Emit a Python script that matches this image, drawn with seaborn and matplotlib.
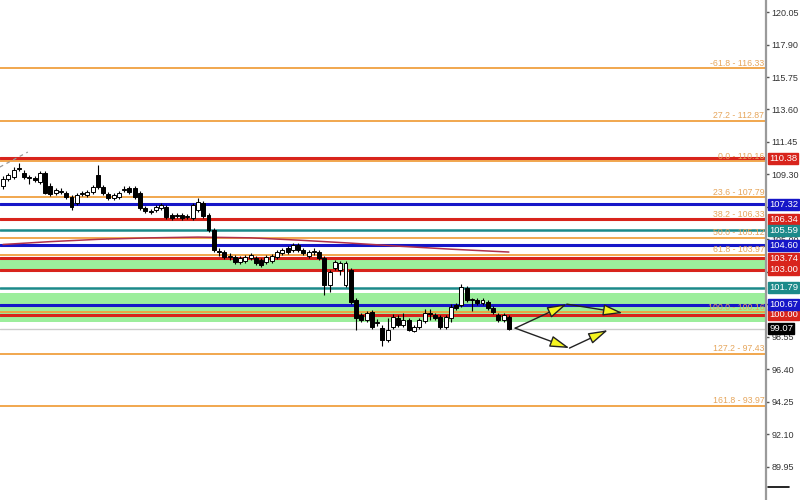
import matplotlib
matplotlib.use("Agg")
import matplotlib.pyplot as plt
import matplotlib.transforms as mtransforms
import numpy as np
import pandas as pd
import seaborn as sns

# Bougies (OHLC)
opens = [108.53, 108.99, 109.12, 109.65, 109.39, 109.12, 109.06, 108.79, 109.39, 108.53,
         108.06, 108.13, 108.06, 107.80, 107.40, 108.00, 107.93, 108.13, 109.26, 108.46,
         108.00, 107.73, 107.80, 108.26, 108.40, 108.40, 108.06, 107.07, 106.81, 106.94,
         107.07, 107.14, 106.61, 106.54, 106.61, 106.47, 106.41, 106.94, 107.40, 106.61,
         105.61, 104.22, 104.16, 103.83, 103.83, 103.49, 103.56, 103.76, 103.76, 103.63,
         103.49, 103.56, 103.83, 104.09, 104.42, 104.29, 104.62, 104.29, 103.89, 104.16,
         104.16, 103.76, 101.97, 103.10, 102.96, 101.97, 102.96, 100.98, 99.98, 99.65,
         100.18, 99.45, 99.12, 98.33, 99.19, 99.79, 99.32, 99.65, 98.92, 99.19,
         99.59, 100.12, 99.98, 99.85, 99.19, 99.79, 100.65, 100.65, 101.77, 100.98,
         100.98, 100.78, 100.85, 100.45, 99.98, 99.65, 99.85]
closes = [108.99, 109.26, 109.59, 109.72, 109.12, 109.06, 108.92, 109.39, 108.06, 108.00,
          108.26, 108.20, 107.80, 107.14, 107.93, 108.06, 108.13, 108.46, 108.46, 108.06,
          107.73, 107.93, 108.06, 108.33, 108.13, 107.80, 107.07, 106.87, 106.87, 107.14,
          107.27, 106.47, 106.41, 106.61, 106.41, 106.54, 107.27, 107.47, 106.54, 105.61,
          104.29, 104.16, 103.83, 103.89, 103.49, 103.76, 103.83, 103.96, 103.43, 103.30,
          103.83, 103.89, 104.16, 104.29, 104.16, 104.62, 104.29, 104.09, 104.16, 104.22,
          103.76, 101.97, 102.83, 103.49, 103.43, 103.43, 100.85, 99.79, 99.65, 100.12,
          99.19, 99.52, 98.33, 98.99, 99.85, 99.32, 99.65, 98.99, 99.19, 99.65,
          100.12, 100.05, 99.79, 99.19, 99.85, 100.51, 100.45, 101.84, 100.98, 101.04,
          100.78, 100.98, 100.45, 100.18, 99.65, 99.98, 99.07]
highs = [109.19, 109.39, 109.79, 110.05, 109.59, 109.26, 109.19, 109.52, 109.52, 108.73,
         108.40, 108.40, 108.20, 107.93, 108.06, 108.20, 108.26, 108.59, 109.92, 108.59,
         108.13, 108.06, 108.20, 108.53, 108.53, 108.53, 108.20, 107.20, 107.00, 107.27,
         107.40, 107.27, 106.74, 106.74, 106.74, 106.67, 107.40, 107.73, 107.53, 106.74,
         105.75, 104.42, 104.29, 104.09, 103.96, 103.89, 103.96, 104.09, 103.89, 103.76,
         103.96, 104.02, 104.29, 104.42, 104.55, 104.75, 104.75, 104.42, 104.29, 104.42,
         104.29, 103.89, 102.96, 103.63, 103.56, 103.56, 103.10, 101.11, 100.12, 100.25,
         100.32, 99.72, 99.32, 99.79, 100.05, 99.98, 100.12, 99.79, 99.32, 99.79,
         100.38, 100.38, 100.12, 99.98, 99.98, 100.71, 100.78, 102.04, 101.90, 101.11,
         101.11, 101.11, 100.98, 100.58, 100.12, 100.12, 99.98]
lows = [108.33, 108.86, 108.99, 109.52, 108.99, 108.66, 108.79, 108.66, 108.00, 107.87,
        107.93, 108.00, 107.67, 106.94, 107.27, 107.87, 107.80, 108.00, 108.33, 107.93,
        107.60, 107.60, 107.67, 108.13, 108.00, 107.67, 106.94, 106.74, 106.67, 106.81,
        106.94, 106.34, 106.28, 106.41, 106.28, 106.34, 106.28, 106.81, 106.41, 105.48,
        104.16, 103.89, 103.69, 103.63, 103.36, 103.36, 103.43, 103.63, 103.30, 103.16,
        103.36, 103.43, 103.69, 103.96, 104.02, 104.16, 104.16, 103.96, 103.76, 103.96,
        103.63, 101.31, 101.51, 102.96, 102.63, 101.84, 100.71, 98.99, 99.52, 99.52,
        99.06, 99.26, 97.93, 98.20, 99.06, 99.19, 99.19, 98.92, 98.88, 99.06,
        99.45, 99.65, 99.65, 99.06, 99.06, 99.52, 100.32, 100.51, 100.85, 100.25,
        100.65, 100.65, 100.32, 100.05, 99.52, 99.52, 99.02]

# Moyenne mobile (quelques points)
ma_idx = [0, 9, 18, 28, 37, 47, 56, 66, 75, 85, 96]
ma_vals = [104.66, 104.85, 105.00, 105.10, 105.15, 105.10, 104.95, 104.75, 104.55, 104.35, 104.16]

# Niveaux de Fibonacci
fib_ratios = ["-61.8", "27.2", "0.0", "23.6", "38.2", "50.0", "61.8", "100.0", "127.2", "161.8"]
fib_prices = [116.33, 112.87, 110.16, 107.79, 106.33, 105.12, 103.97, 100.16, 97.43, 93.97]

# Niveaux horizontaux
red_levels = [110.38, 106.34, 103.74, 103.00, 100.00]
blue_levels = [107.32, 104.60, 100.67]
teal_levels = [105.59, 101.79]
green_zones = [(103.00, 103.74), (99.54, 101.46)]
last_price = 99.07

# Scenarios (fleches)
path_up = [(97.2, 99.12), (107.0, 100.71), (117.6, 100.12)]
path_down = [(97.2, 99.12), (107.5, 97.80), (114.8, 98.99)]

# Ligne pointillee en haut a gauche
dash_x = [-0.6, 4.7]
dash_y = [109.79, 110.78]

tick_vals = [89.95, 92.10, 94.25, 96.40, 98.55, 100.70, 102.85, 105.00,
             107.15, 109.30, 111.45, 113.60, 115.75, 117.90, 120.05]
# graduations masquees par les etiquettes de prix
hidden_ticks = [100.70, 102.85, 107.15]

RED = "#d8241c"
BLUE = "#1616c8"
TEAL = "#1c8a8a"
FIB = "#f0a040"
FIB_TXT = "#e6a65c"

sns.set_theme(style="white")
plt.rcParams["font.family"] = ["Liberation Sans", "DejaVu Sans"]

fig = plt.figure(figsize=(8, 5), dpi=100)
ax = fig.add_axes([0, 0, 766 / 800, 1])
ax.set_xlim(-0.57, 144.8)
ax.set_ylim(87.74, 120.85)

# Zones vertes
for lo, hi in green_zones:
    ax.axhspan(lo, hi, color="#9cee9c", zorder=0, lw=0)

ax.axhline(last_price, color="#cccccc", lw=1, zorder=0.5)

# Fibonacci
for r, p in zip(fib_ratios, fib_prices):
    ax.axhline(p, color=FIB, lw=1.3, zorder=1)
    ax.annotate(f"{r} - {p:.2f}", xy=(0.998, p), xycoords=("axes fraction", "data"),
                xytext=(0, 0.5), textcoords="offset points", ha="right", va="bottom",
                fontsize=6.3, color=FIB_TXT, zorder=1.5)

for p in red_levels:
    ax.axhline(p, color=RED, lw=2.2, zorder=1.2)
for p in blue_levels:
    ax.axhline(p, color=BLUE, lw=2.2, zorder=1.2)
for p in teal_levels:
    ax.axhline(p, color=TEAL, lw=1.8, zorder=1.2)

# Moyenne mobile
sns.lineplot(x=ma_idx, y=ma_vals, color="#b0304a", lw=1.1, ax=ax, zorder=2)
ax.plot(dash_x, dash_y, color="#999999", lw=0.9, ls=(0, (3, 3)), zorder=2)

# Bougies
df = pd.DataFrame({"o": opens, "h": highs, "l": lows, "c": closes})
df["x"] = np.arange(len(df))
ax.vlines(df["x"], df["l"], df["h"], color="black", lw=0.8, zorder=3)
bottoms = np.minimum(df["o"], df["c"])
heights = np.maximum((df["c"] - df["o"]).abs(), 0.03)
faces = np.where(df["c"] >= df["o"], "white", "black")
ax.bar(df["x"], heights, bottom=bottoms, width=0.75, color=faces,
       edgecolor="black", lw=0.7, zorder=3.5)

# Fleches de scenario
for path in (path_up, path_down):
    for (x0, y0), (x1, y1) in zip(path[:-1], path[1:]):
        ax.annotate("", xy=(x1, y1), xytext=(x0, y0),
                    arrowprops=dict(arrowstyle="-|>,head_length=1.2,head_width=0.35",
                                    fc="#f5f520", ec="#222222", lw=1.0,
                                    shrinkA=0, shrinkB=0, mutation_scale=10),
                    zorder=4)

# Axe de droite
for s in ["top", "left", "bottom"]:
    ax.spines[s].set_visible(False)
ax.spines["right"].set_color("#9a9a9a")
ax.spines["right"].set_linewidth(1.6)
ax.set_xticks([])
ax.yaxis.tick_right()
ax.set_yticks(tick_vals)
ax.set_yticklabels(["" if v in hidden_ticks else f"{v:.2f}" for v in tick_vals])
ax.tick_params(axis="y", length=2, width=1, color="#555555", labelsize=6.5,
               labelcolor="#333333", pad=2)

# Etiquettes de prix
trans = mtransforms.blended_transform_factory(ax.transAxes, ax.transData)
labels = ([(p, RED) for p in red_levels] + [(p, BLUE) for p in blue_levels]
          + [(p, TEAL) for p in teal_levels] + [(last_price, "black")])
for p, col in labels:
    ax.text(1.004, p, f"{p:.2f}", transform=trans, ha="left", va="center",
            fontsize=6.8, color="white", zorder=5, clip_on=False,
            bbox=dict(boxstyle="square,pad=0.1", fc=col, ec=col))

ax.plot([1.002, 1.03], [88.6, 88.6], transform=trans, color="black", lw=1.2, clip_on=False)

fig.savefig("out.png", dpi=100)
